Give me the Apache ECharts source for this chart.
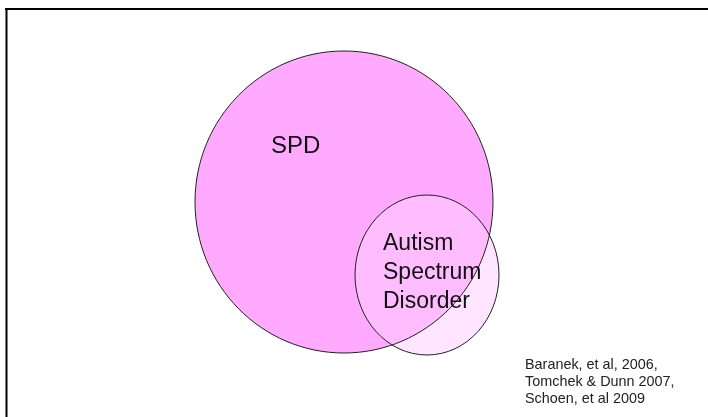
<!DOCTYPE html>
<html>
<head>
<meta charset="utf-8">
<script src="https://cdn.jsdelivr.net/npm/echarts@6/dist/echarts.min.js"></script>
<style>
  html, body { margin: 0; padding: 0; background: #fff; }
  #main { width: 708px; height: 417px; }
</style>
</head>
<body>
<div id="main"></div>
<script>
// sets of the diagram (plane units, y grows downward)
var setNames = ['SPD', 'Autism\nSpectrum\nDisorder']
var centerX = [344, 427]
var centerY = [202, 275]
var radiusX = [149, 72]
var radiusY = [151, 80]
// where each set's name sits (top-left of the text)
var labelX = [271, 383]
var labelY = [132, 229]
var citation = ['Baranek, et al, 2006,', 'Tomchek & Dunn 2007,', 'Schoen, et al 2009']

var fills = ['#ffaaff', 'rgba(255,206,255,0.52)']
var fontSizes = [24, 23]

var chart = echarts.init(document.getElementById('main'))

var data = setNames.map(function (n, i) {
  return [centerX[i], centerY[i], radiusX[i], radiusY[i], labelX[i], labelY[i]]
})

function renderItem(params, api) {
  var i = params.dataIndex
  var c = api.coord([api.value(0), api.value(1)])
  var s = api.size([api.value(2), api.value(3)])
  var lp = api.coord([api.value(4), api.value(5)])
  return {
    type: 'group',
    children: [
      {
        type: 'ellipse',
        shape: { cx: c[0], cy: c[1], rx: s[0], ry: s[1] },
        style: { fill: fills[i], stroke: null },
        z2: i
      },
      {
        type: 'ellipse',
        shape: { cx: c[0], cy: c[1], rx: s[0], ry: s[1] },
        style: { fill: null, stroke: '#222', lineWidth: 1 },
        z2: 10
      },
      {
        type: 'text',
        x: lp[0],
        y: lp[1],
        style: {
          text: setNames[i],
          fill: '#111',
          font: fontSizes[i] + 'px "Liberation Sans", Arial, sans-serif',
          lineHeight: 29,
          verticalAlign: 'top',
          align: 'left'
        },
        z2: 20
      }
    ]
  }
}

var option = {
  animation: false,
  backgroundColor: '#fff',
  title: {
    text: citation.join('\n'),
    left: 525,
    top: 357,
    padding: 0,
    textStyle: {
      fontFamily: '"Liberation Sans", Arial, sans-serif',
      fontWeight: 'normal',
      fontSize: 14.4,
      lineHeight: 17,
      color: '#222'
    }
  },
  grid: { left: 0, right: 0, top: 0, bottom: 0 },
  xAxis: { type: 'value', min: 0, max: 708, show: false },
  yAxis: { type: 'value', min: 0, max: 417, inverse: true, show: false },
  series: [{
    type: 'custom',
    renderItem: renderItem,
    data: data,
    clip: false
  }],
  graphic: [
    { type: 'line', shape: { x1: 5, y1: 9, x2: 708, y2: 9 }, style: { stroke: '#000', lineWidth: 2 } },
    { type: 'line', shape: { x1: 6.5, y1: 8, x2: 6.5, y2: 417 }, style: { stroke: '#000', lineWidth: 2 } }
  ]
}

chart.setOption(option)
</script>
</body>
</html>
